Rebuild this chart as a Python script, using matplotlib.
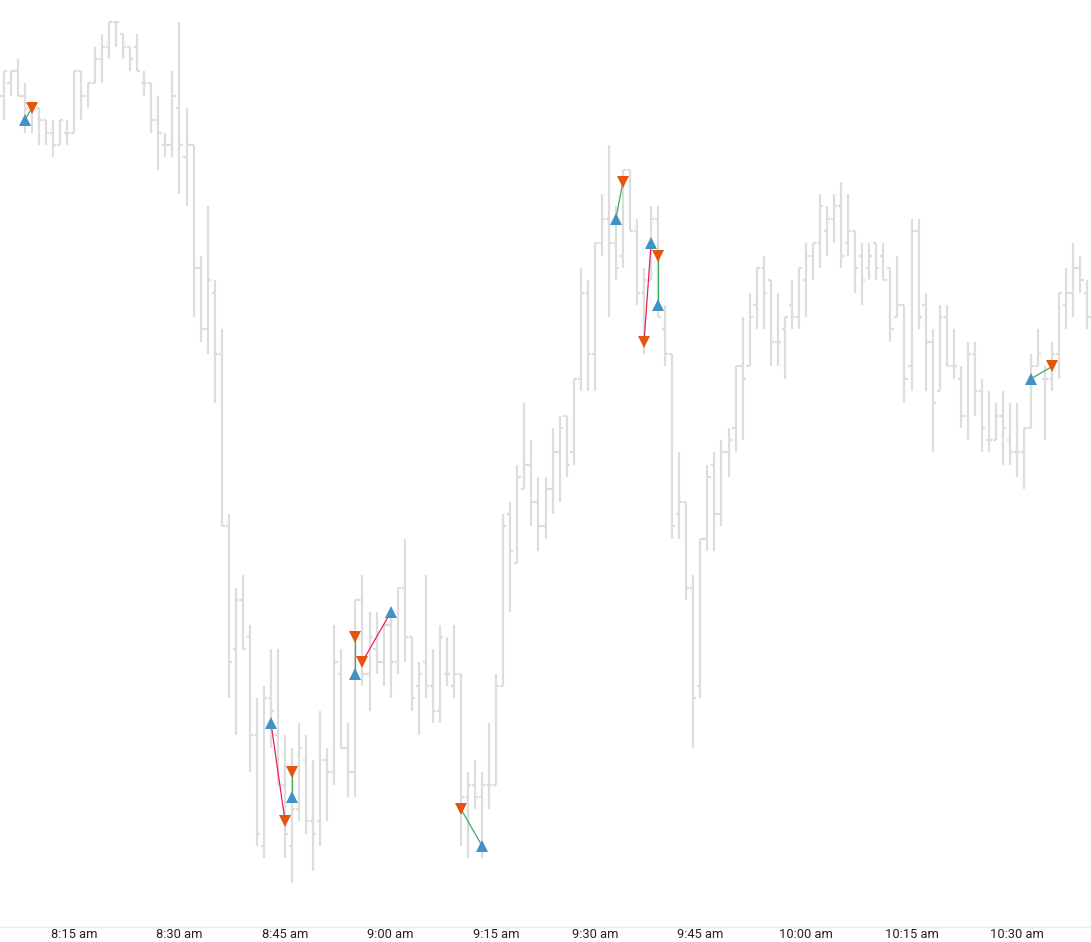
import matplotlib
matplotlib.use('Agg')
import matplotlib.pyplot as plt
from matplotlib.collections import LineCollection
import numpy as np
import pandas as pd

# 1-minute bars, 8:05 to 10:40 (one minute missing in the feed)
times = pd.date_range('2023-05-01 08:05', '2023-05-01 10:40', freq='1min')
times = times.drop(pd.Timestamp('2023-05-01 09:22'))

opens = [
    4210.50, 4210.75, 4211.00, 4210.50, 4210.25, 4210.25, 4210.00, 4209.75, 4209.50, 4209.75,
    4209.75, 4211.00, 4210.50, 4210.75, 4211.25, 4211.50, 4212.00, 4211.75, 4211.50, 4211.50,
    4210.75, 4210.75, 4210.00, 4209.50, 4209.50, 4210.25, 4209.25, 4209.50, 4207.00, 4205.75,
    4206.50, 4205.25, 4201.75, 4199.25, 4200.25, 4199.50, 4197.50, 4195.25, 4198.25, 4197.50,
    4196.50, 4195.25, 4196.00, 4197.00, 4195.75, 4195.75, 4197.00, 4196.75, 4198.75, 4197.25,
    4196.75, 4200.25, 4198.75, 4199.25, 4199.00, 4199.75, 4199.00, 4200.50, 4199.50, 4198.50,
    4199.00, 4198.50, 4198.00, 4198.75, 4198.50, 4198.75, 4196.25, 4196.50, 4196.25, 4196.50,
    4196.50, 4198.50, 4202.00, 4201.00, 4202.50, 4203.00, 4202.25, 4201.75, 4202.50, 4203.25,
    4204.00, 4203.25, 4204.75, 4206.50, 4205.25, 4207.50, 4208.00, 4207.50, 4207.25, 4209.00,
    4207.75, 4206.50, 4206.75, 4208.00, 4205.75, 4205.25, 4202.00, 4202.25, 4200.50, 4198.50,
    4201.50, 4203.00, 4202.00, 4203.25, 4203.75, 4205.00, 4205.00, 4206.25, 4207.00, 4206.75,
    4205.50, 4205.75, 4206.25, 4206.00, 4206.75, 4207.25, 4207.50, 4207.75, 4208.00, 4208.25,
    4207.50, 4207.75, 4207.25, 4207.00, 4207.50, 4207.25, 4207.00, 4206.00, 4206.25, 4205.00,
    4207.75, 4206.25, 4205.50, 4204.50, 4206.00, 4205.00, 4204.75, 4204.00, 4205.25, 4204.50,
    4203.50, 4203.50, 4204.00, 4203.50, 4203.25, 4203.25, 4203.75, 4205.00, 4204.75, 4204.75,
    4205.25, 4206.25, 4206.50, 4207.00, 4206.50,
]
highs = [
    4211.00, 4211.00, 4211.25, 4210.75, 4210.25, 4210.25, 4210.00, 4210.00, 4210.00, 4210.00,
    4211.00, 4211.00, 4210.75, 4211.50, 4211.75, 4212.00, 4212.00, 4211.75, 4211.50, 4211.75,
    4211.00, 4210.75, 4210.50, 4209.75, 4211.00, 4212.00, 4210.25, 4209.50, 4207.25, 4208.25,
    4206.75, 4205.75, 4202.00, 4200.50, 4200.75, 4199.75, 4198.25, 4198.50, 4199.25, 4199.25,
    4197.50, 4197.25, 4197.75, 4197.50, 4197.00, 4198.00, 4197.25, 4199.75, 4199.25, 4197.75,
    4200.25, 4200.75, 4200.00, 4200.00, 4199.75, 4200.00, 4200.50, 4201.50, 4199.50, 4199.00,
    4200.75, 4199.25, 4199.75, 4199.50, 4199.75, 4198.75, 4196.75, 4197.00, 4196.75, 4197.75,
    4198.75, 4202.00, 4202.25, 4203.00, 4204.25, 4203.50, 4202.75, 4202.75, 4203.75, 4204.00,
    4204.00, 4204.75, 4207.00, 4206.75, 4207.50, 4208.50, 4209.50, 4208.25, 4209.00, 4209.00,
    4208.00, 4207.00, 4208.25, 4208.25, 4206.25, 4205.25, 4203.25, 4202.25, 4200.75, 4201.50,
    4203.00, 4203.25, 4203.50, 4203.75, 4205.00, 4206.00, 4206.50, 4207.00, 4207.25, 4206.75,
    4206.50, 4206.00, 4206.75, 4207.00, 4207.50, 4207.50, 4208.50, 4208.25, 4208.50, 4208.75,
    4208.50, 4207.75, 4207.50, 4207.50, 4207.50, 4207.50, 4207.00, 4207.25, 4206.25, 4208.00,
    4208.00, 4206.50, 4205.75, 4206.25, 4206.25, 4205.75, 4205.00, 4205.50, 4205.50, 4204.75,
    4204.50, 4204.25, 4204.50, 4204.25, 4204.25, 4203.75, 4205.25, 4205.75, 4205.00, 4205.50,
    4206.50, 4207.00, 4207.50, 4207.25, 4206.75,
]
lows = [
    4210.00, 4210.50, 4210.50, 4209.75, 4209.75, 4209.50, 4209.50, 4209.25, 4209.50, 4209.50,
    4209.75, 4210.00, 4210.25, 4210.75, 4210.75, 4211.25, 4211.50, 4211.25, 4211.00, 4211.00,
    4210.50, 4209.75, 4209.00, 4209.25, 4209.25, 4208.50, 4208.25, 4206.00, 4205.50, 4205.25,
    4204.25, 4201.75, 4198.25, 4197.50, 4199.25, 4196.75, 4195.25, 4195.00, 4197.25, 4196.50,
    4195.00, 4194.50, 4195.75, 4195.50, 4194.75, 4195.25, 4195.75, 4196.50, 4197.25, 4196.25,
    4196.25, 4198.50, 4198.00, 4198.75, 4198.50, 4198.25, 4198.75, 4199.00, 4198.00, 4197.50,
    4198.25, 4197.75, 4197.75, 4198.50, 4198.25, 4195.25, 4195.00, 4196.00, 4195.00, 4196.00,
    4196.50, 4198.50, 4200.00, 4201.00, 4202.50, 4201.75, 4201.25, 4201.50, 4202.00, 4202.25,
    4202.75, 4203.00, 4204.50, 4204.50, 4204.50, 4207.25, 4206.00, 4206.75, 4207.00, 4207.75,
    4206.25, 4205.25, 4206.75, 4206.00, 4205.00, 4201.50, 4201.50, 4200.25, 4197.25, 4198.25,
    4201.25, 4201.25, 4201.75, 4202.75, 4203.25, 4203.50, 4205.00, 4205.75, 4205.75, 4205.00,
    4205.00, 4204.75, 4205.75, 4205.75, 4206.00, 4206.75, 4207.00, 4207.25, 4207.50, 4207.00,
    4207.25, 4206.50, 4206.25, 4206.75, 4206.75, 4206.75, 4205.50, 4206.00, 4204.25, 4204.50,
    4205.75, 4204.50, 4203.25, 4204.50, 4205.00, 4204.75, 4203.75, 4203.50, 4204.00, 4203.25,
    4203.25, 4203.50, 4203.00, 4203.00, 4202.75, 4202.50, 4203.75, 4205.00, 4203.50, 4204.50,
    4204.75, 4205.75, 4206.00, 4206.50, 4205.75,
]
closes = [
    4211.00, 4211.00, 4210.50, 4210.25, 4210.25, 4210.00, 4209.75, 4209.50, 4210.00, 4209.75,
    4211.00, 4210.50, 4210.75, 4211.25, 4211.50, 4212.00, 4212.00, 4211.50, 4211.25, 4211.00,
    4210.75, 4210.00, 4209.75, 4209.50, 4210.50, 4209.50, 4209.50, 4207.00, 4205.75, 4206.75,
    4205.25, 4201.75, 4199.00, 4200.25, 4199.25, 4197.50, 4195.50, 4198.25, 4198.00, 4196.50,
    4195.50, 4196.00, 4197.25, 4195.75, 4195.50, 4197.00, 4196.75, 4199.00, 4197.25, 4196.75,
    4200.25, 4198.75, 4199.50, 4199.00, 4199.75, 4199.00, 4200.50, 4199.50, 4198.25, 4198.75,
    4198.50, 4198.00, 4199.50, 4198.75, 4198.75, 4196.25, 4196.50, 4196.25, 4196.50, 4196.50,
    4198.50, 4201.75, 4201.25, 4202.75, 4203.00, 4202.25, 4201.75, 4202.50, 4203.25, 4203.75,
    4203.00, 4204.75, 4206.50, 4205.25, 4207.50, 4208.00, 4207.50, 4207.00, 4209.00, 4207.75,
    4206.50, 4206.75, 4208.00, 4206.00, 4205.25, 4201.75, 4202.25, 4200.50, 4198.25, 4201.50,
    4202.75, 4202.00, 4203.25, 4203.50, 4205.00, 4204.75, 4206.00, 4207.00, 4206.50, 4205.50,
    4205.50, 4206.00, 4206.00, 4207.00, 4207.25, 4207.50, 4208.25, 4208.00, 4208.25, 4207.25,
    4207.75, 4207.00, 4206.75, 4207.25, 4207.00, 4206.75, 4205.75, 4206.25, 4204.75, 4207.75,
    4206.00, 4205.50, 4204.25, 4206.00, 4205.00, 4205.00, 4204.00, 4205.25, 4204.50, 4203.75,
    4203.50, 4204.00, 4203.75, 4203.25, 4203.25, 4203.75, 4205.00, 4205.25, 4204.75, 4205.25,
    4206.50, 4206.50, 4207.00, 4206.75, 4206.00,
]

# trades: bar index and fill price of the buy and the sell
buy_bar = [3, 38, 41, 50, 55, 68, 87, 92, 93, 146]
buy_px = [4210.00, 4197.75, 4196.25, 4198.75, 4200.00, 4195.25, 4208.00, 4207.50, 4206.25, 4204.75]
sell_bar = [4, 40, 41, 50, 51, 65, 88, 91, 93, 149]
sell_px = [4210.25, 4195.75, 4196.75, 4199.50, 4199.00, 4196.00, 4208.75, 4205.50, 4207.25, 4205.00]

fig = plt.figure(figsize=(10.91, 9.42), dpi=100)
ax = fig.add_axes([0, 15 / 942, 1, 927 / 942])

# OHLC bars
segs = []
for i in range(len(opens)):
    segs.append([(i, lows[i]), (i, highs[i])])
    segs.append([(i - 0.45, opens[i]), (i, opens[i])])
    segs.append([(i, closes[i]), (i + 0.45, closes[i])])
ax.add_collection(LineCollection(segs, colors='#dddddd', linewidths=1.6, capstyle='butt'))

# trade lines, green for a win and red for a loss
for b, bp, s, sp in zip(buy_bar, buy_px, sell_bar, sell_px):
    col = '#41ab5d' if sp > bp else '#e8234f'
    ax.plot([b, s], [bp, sp], color=col, lw=0.9, zorder=3)

ax.plot(buy_bar, buy_px, '^', color='#4292c6', ms=8, mew=0, zorder=4, linestyle='none')
ax.plot(sell_bar, sell_px, 'v', color='#e6550d', ms=8, mew=0, zorder=4, linestyle='none')

ax.set_xlim(-0.5, len(opens) - 0.5)
ax.set_ylim(4193.605, 4212.447)

tick_pos = [i for i, t in enumerate(times) if t.minute % 15 == 0]
tick_lab = ['{}:{:02d} am'.format(times[i].hour, times[i].minute) for i in tick_pos]
ax.set_xticks(tick_pos)
ax.set_xticklabels(tick_lab, fontsize=9.3, color='#222222', family='Roboto')
ax.tick_params(axis='x', length=0, pad=1)
ax.set_yticks([])

for side in ['top', 'left', 'right']:
    ax.spines[side].set_visible(False)
ax.spines['bottom'].set_color('#eeeeee')
ax.spines['bottom'].set_linewidth(1)

fig.savefig('out.png', dpi=100)
